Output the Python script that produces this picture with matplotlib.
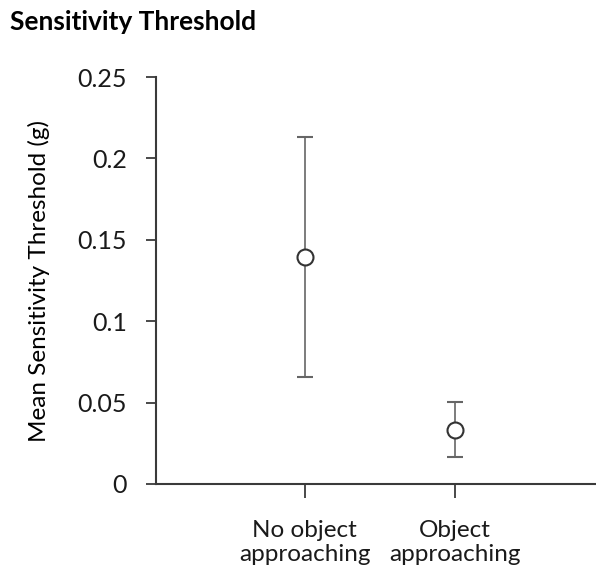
import matplotlib
matplotlib.use("Agg")
import matplotlib.pyplot as plt

# data
conditions = ["No object\napproaching", "Object\napproaching"]
means = [0.1397, 0.0331]
err_low = [0.0656, 0.0165]
err_high = [0.2132, 0.0502]
yticks = [0, 0.05, 0.1, 0.15, 0.2, 0.25]
ytick_labels = ["0", "0.05", "0.1", "0.15", "0.2", "0.25"]

plt.rcParams['font.family'] = ['Lato', 'DejaVu Sans']

fig = plt.figure(figsize=(5.96, 5.71), dpi=100)
ax = fig.add_axes([0.2617, 0.1524, 0.737, 0.7127])

xpos = [1, 2]
lower = [m - lo for m, lo in zip(means, err_low)]
upper = [hi - m for m, hi in zip(means, err_high)]
ax.errorbar(xpos, means, yerr=[lower, upper], fmt='o', color='#555555',
            ecolor='#666666', elinewidth=1.2, capsize=5.5, capthick=1.2,
            markersize=11.5, markerfacecolor='white', markeredgecolor='#333333',
            markeredgewidth=1.5, zorder=3)

ax.set_xlim(0.013, 2.93)
ax.set_ylim(0, 0.25)
ax.set_yticks(yticks)
ax.set_yticklabels(ytick_labels)
ax.set_xticks(xpos)
ax.set_xticklabels(conditions, linespacing=1.15)

for side in ['top', 'right']:
    ax.spines[side].set_visible(False)
for side in ['left', 'bottom']:
    ax.spines[side].set_color('#3a3a3a')
    ax.spines[side].set_linewidth(1.5)

ax.tick_params(axis='y', direction='out', length=7, width=1.3, color='#3a3a3a',
               labelsize=18, pad=14, labelcolor='#1a1a1a')
ax.tick_params(axis='x', direction='out', length=10, width=1.3, color='#3a3a3a',
               labelsize=17.5, pad=16, labelcolor='#1a1a1a')

ax.set_ylabel("Mean Sensitivity Threshold (g)", fontsize=17.5, color='#000000',
              labelpad=20)

fig.text(0.017, 0.962, "Sensitivity Threshold", fontsize=19, fontweight='bold',
         color='#000000', va='center', ha='left')

fig.savefig("out.png", dpi=100)
